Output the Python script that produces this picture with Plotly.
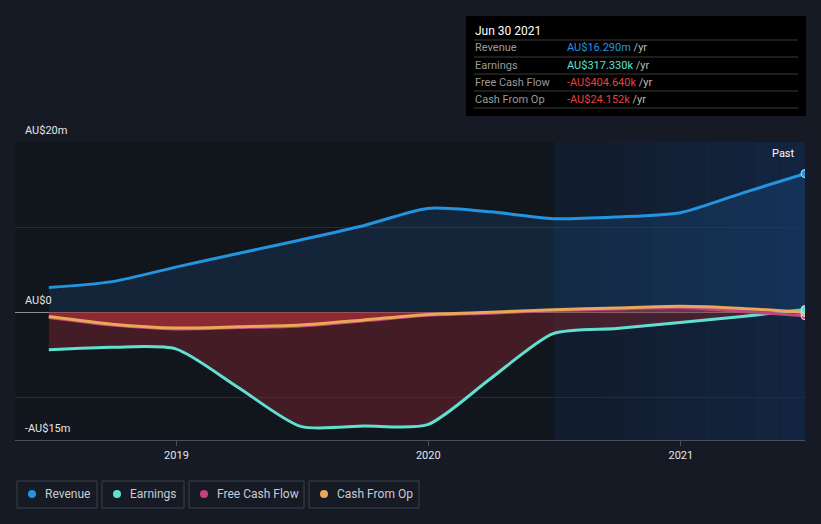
import plotly.graph_objects as go
import datetime as _dt

dates = ["2018-06-30", "2018-09-30", "2018-12-31", "2019-03-31", "2019-06-30",
         "2019-09-30", "2019-12-31", "2020-03-31", "2020-06-30", "2020-09-30",
         "2020-12-31", "2021-03-31", "2021-06-30"]
revenue = [2.9, 3.6, 5.3, 6.9, 8.5, 10.2, 12.2, 11.8, 11.0, 11.2, 11.7, 14.0, 16.29]
earnings = [-4.4, -4.1, -4.3, -8.8, -13.4, -13.35, -13.2, -7.8, -2.5, -1.9, -1.2, -0.5, 0.317]
free_cash_flow = [-0.6, -1.5, -1.95, -1.8, -1.6, -1.0, -0.35, -0.1, 0.2, 0.4, 0.55, 0.1, -0.405]
cash_from_op = [-0.5, -1.4, -1.85, -1.7, -1.5, -0.9, -0.25, 0.0, 0.3, 0.5, 0.7, 0.45, -0.024]

y_ticks = [-15, -10, 0, 10, 20]
y_tick_labels = {20: "AU$20m", 0: "AU$0", -15: "-AU$15m"}
x_ticks = ["2019-01-01", "2020-01-01", "2021-01-01"]
x_tick_labels = ["2019", "2020", "2021"]

C_REV = "#2394e0"
C_EARN = "#5fe0d0"
C_FCF = "#c4437f"
C_CFO = "#e8a857"
BG = "#151a24"
PLOT_BG = "#11151c"

W, H = 821, 524
L, R, T, B = 15, 805, 142, 440
SM = 0.7


def px(x):
    return (x - L) / (R - L)


def py(y):
    return (B - y) / (B - T)


fig = go.Figure()

fig.add_trace(go.Scatter(x=dates, y=earnings, mode="lines", fill="tozeroy",
                         fillcolor="rgba(120,35,45,0.5)",
                         line=dict(color=C_EARN, width=3, shape="spline", smoothing=SM)))
fig.add_trace(go.Scatter(x=dates, y=cash_from_op, mode="lines", fill="tozeroy",
                         fillcolor="rgba(200,55,60,0.55)",
                         line=dict(color="rgba(0,0,0,0)", width=0, shape="spline", smoothing=SM)))
fig.add_trace(go.Scatter(x=dates, y=revenue, mode="lines", fill="tozeroy",
                         fillcolor="rgba(35,120,200,0.17)",
                         line=dict(color=C_REV, width=3, shape="spline", smoothing=SM)))
fig.add_trace(go.Scatter(x=dates, y=free_cash_flow, mode="lines",
                         line=dict(color=C_FCF, width=3, shape="spline", smoothing=SM)))
fig.add_trace(go.Scatter(x=dates, y=cash_from_op, mode="lines",
                         line=dict(color=C_CFO, width=3, shape="spline", smoothing=SM)))

# end markers
for series, col in [(free_cash_flow, C_FCF), (cash_from_op, C_CFO), (earnings, C_EARN), (revenue, C_REV)]:
    fig.add_trace(go.Scatter(x=[dates[-1]], y=[series[-1]], mode="markers",
                             marker=dict(color=col, size=8, line=dict(color="#cfe3f5", width=1))))

shapes = []
# past region gradient
n = 10
d0 = _dt.date(2020, 7, 1)
d1 = _dt.date(2021, 6, 30)
span = (d1 - d0).days
for i in range(n):
    a = d0 + _dt.timedelta(days=span * i / n)
    b = d0 + _dt.timedelta(days=span * (i + 1) / n)
    shapes.append(dict(type="rect", xref="x", yref="paper", x0=a.isoformat(), x1=b.isoformat(),
                       y0=0, y1=1, layer="below", line=dict(width=0),
                       fillcolor="rgba(20,60,120,%.3f)" % (0.18 + 0.22 * i / (n - 1))))

# legend boxes
legend_items = [("Revenue", C_REV, 17, 97), ("Earnings", C_EARN, 102, 184),
                ("Free Cash Flow", C_FCF, 189, 304), ("Cash From Op", C_CFO, 309, 419)]
annotations = []
for name, col, x0, x1 in legend_items:
    shapes.append(dict(type="rect", xref="paper", yref="paper", x0=px(x0), x1=px(x1),
                       y0=py(508), y1=py(481), line=dict(color="#3d424c", width=1),
                       fillcolor="rgba(0,0,0,0)"))
    shapes.append(dict(type="circle", xref="paper", yref="paper", x0=px(x0 + 11), x1=px(x0 + 19),
                       y0=py(498), y1=py(490), line=dict(width=0), fillcolor=col))
    annotations.append(dict(text=name, xref="paper", yref="paper", x=px(x0 + 26), y=py(494),
                            xanchor="left", yanchor="middle", showarrow=False,
                            font=dict(color="#c8ccd2", size=12)))

# tooltip box
shapes.append(dict(type="rect", xref="paper", yref="paper", x0=px(466), x1=px(806),
                   y0=py(116), y1=py(16), line=dict(width=0), fillcolor="#000000"))
for yy in [40, 57, 74, 91, 108]:
    shapes.append(dict(type="line", xref="paper", yref="paper", x0=px(474), x1=px(798),
                       y0=py(yy), y1=py(yy), line=dict(color="#3a3a3a", width=1)))
annotations.append(dict(text="Jun 30 2021", xref="paper", yref="paper", x=px(473), y=py(31),
                        xanchor="left", yanchor="middle", showarrow=False,
                        font=dict(color="#ffffff", size=12)))
rows = [("Revenue", "AU$16.290m", C_REV, 48), ("Earnings", "AU$317.330k", C_EARN, 65),
        ("Free Cash Flow", "-AU$404.640k", "#e8403f", 82), ("Cash From Op", "-AU$24.152k", "#e8403f", 99)]
for lab, val, col, yy in rows:
    annotations.append(dict(text=lab, xref="paper", yref="paper", x=px(473), y=py(yy),
                            xanchor="left", yanchor="middle", showarrow=False,
                            font=dict(color="#9a9a9a", size=11)))
    annotations.append(dict(text="<span style='color:%s'>%s</span> /yr" % (col, val),
                            xref="paper", yref="paper", x=px(565), y=py(yy),
                            xanchor="left", yanchor="middle", showarrow=False,
                            font=dict(color="#bbbbbb", size=11)))

# y-axis labels
for v, t in y_tick_labels.items():
    annotations.append(dict(text=t, xref="paper", yref="y", x=px(23), y=v, yshift=12,
                            xanchor="left", yanchor="middle", showarrow=False,
                            font=dict(color="#e6e6e6", size=11)))

annotations.append(dict(text="Past", xref="paper", yref="paper", x=px(797), y=py(153),
                        xanchor="right", yanchor="middle", showarrow=False,
                        font=dict(color="#ffffff", size=11)))

fig.update_layout(
    width=W, height=H,
    margin=dict(l=L, r=W - R, t=T, b=H - B),
    paper_bgcolor=BG, plot_bgcolor=PLOT_BG,
    showlegend=False, hovermode=False,
    font=dict(family="Roboto, Arial, sans-serif", color="#e6e6e6"),
    shapes=shapes, annotations=annotations,
    xaxis=dict(type="date", range=["2018-05-12", "2021-06-30"], tickvals=x_ticks,
               ticktext=x_tick_labels, showgrid=False, zeroline=False,
               showline=True, linecolor="#4a4f5a", linewidth=1,
               ticks="outside", ticklen=5, tickcolor="#4a4f5a",
               tickfont=dict(color="#e6e6e6", size=11)),
    yaxis=dict(range=[-15, 20], tickvals=y_ticks, showticklabels=False,
               gridcolor="#262b35", gridwidth=1, zeroline=True, zerolinecolor="#8a8d93",
               zerolinewidth=1.5, showline=False, fixedrange=True),
)

fig.write_html("out.html", config={"displayModeBar": False, "staticPlot": True},
               post_script="document.body.style.margin='0';document.body.style.padding='0';"
                           "document.documentElement.style.background='%s';" % BG)
